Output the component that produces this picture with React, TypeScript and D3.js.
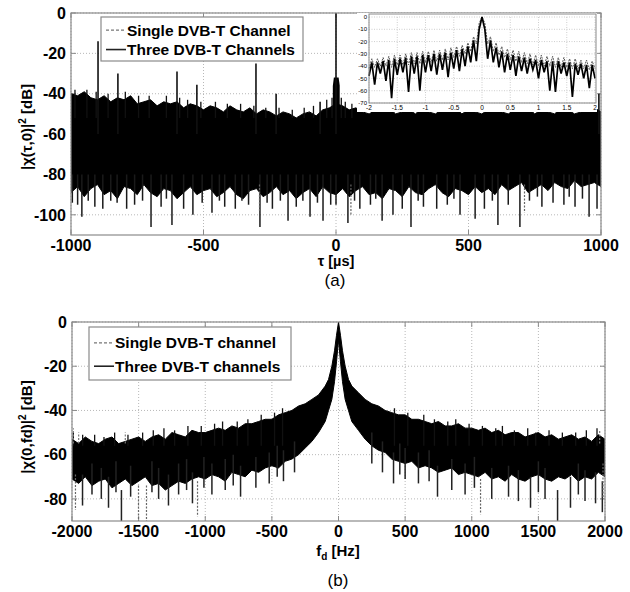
import React from 'react';
import * as d3 from 'd3';

// ---- panel (a): delay cut ----
const tauGridA = [
  -1000, -975, -950, -925, -900, -875, -850, -825, -800, -775, -750, -725, -700, -675, -650, -625, -600, -575, -550, -525, -500,
  -475, -450, -425, -400, -375, -350, -325, -300, -275, -250, -225, -200, -175, -150, -125, -100, -75, -50, -25, 0,
  25, 50, 75, 100, 125, 150, 175, 200, 225, 250, 275, 300, 325, 350, 375, 400, 425, 450, 475, 500,
  525, 550, 575, 600, 625, 650, 675, 700, 725, 750, 775, 800, 825, 850, 875, 900, 925, 950, 975, 1000,
];
const upperA = [
  -40, -41, -39, -42, -43, -41, -44, -42, -43, -41, -45, -44, -43, -46, -44, -45, -44, -47, -45, -46, -48,
  -46, -47, -49, -46, -48, -49, -47, -50, -48, -49, -51, -49, -50, -52, -50, -49, -51, -48, -47, -45,
  -46, -48, -47, -49, -50, -48, -49, -47, -50, -49, -48, -50, -47, -49, -50, -48, -49, -47, -50, -48,
  -49, -50, -48, -47, -49, -50, -48, -49, -47, -50, -48, -49, -50, -47, -48, -50, -49, -48, -47, -49,
];
const lowerA = [
  -89, -86, -91, -87, -85, -90, -88, -92, -86, -87, -90, -85, -89, -91, -87, -88, -92, -89, -86, -90, -88,
  -87, -91, -89, -86, -90, -92, -88, -87, -91, -89, -86, -90, -88, -92, -89, -87, -91, -86, -89, -90,
  -87, -91, -88, -86, -90, -89, -92, -87, -88, -91, -86, -89, -90, -87, -85, -89, -91, -87, -88, -90,
  -86, -89, -87, -90, -85, -88, -86, -84, -89, -87, -85, -88, -84, -86, -87, -83, -86, -85, -84, -86,
];
const centerBlockA = [[-12, -36], [-8, -32], [10, -32], [14, -36]];
const upSpikesA = [[-898, -14], [-823, -30], [-600, -29], [-525, -35.5], [-302, -25], [-226, -40], [-60, -44], [992, -40], [0, 0]];
const fringeUpA = [
  [-985, -38], [-940, -38], [-905, -39], [-860, -40], [-795, -39], [-745, -41], [-705, -41], [-640, -41], [-590, -42],
  [-560, -43], [-510, -44], [-455, -44], [-410, -45], [-360, -45], [-310, -46], [-265, -47], [-215, -47], [-165, -48],
  [-120, -47], [-85, -46], [-35, -43], [-15, -42], [20, -42], [35, -44], [60, -45],
];
const downSpikesA = [
  [-995, -94], [-975, -95], [-959, -101], [-935, -93], [-910, -96], [-880, -97], [-850, -93], [-826, -94], [-790, -97], [-760, -95],
  [-730, -93], [-698, -106], [-660, -96], [-640, -92], [-619, -105], [-575, -97], [-540, -100], [-505, -94], [-468, -99],
  [-440, -93], [-420, -96], [-380, -97], [-355, -93], [-330, -95], [-287, -106], [-260, -94], [-240, -97], [-210, -93],
  [-181, -103], [-150, -96], [-125, -93], [-98, -101], [-70, -94], [-49, -103], [-20, -95], [0, -95], [45, -104], [70, -93],
  [90, -97], [130, -95], [150, -92], [174, -103], [215, -100], [250, -97], [283, -106], [310, -93], [330, -96], [380, -97],
  [420, -95], [445, -92], [468, -100], [525, -102], [560, -97], [590, -93], [611, -105], [650, -95], [694, -106], [730, -93],
  [760, -91], [777, -96], [819, -94], [860, -95], [880, -91], [902, -96], [930, -92], [955, -101], [985, -97],
];
const dashedSpikesA = [[45, -100], [-300, -98], [700, -99]];
const xTicksA = [-1000, -500, 0, 500, 1000];
const yTicksA = [0, -20, -40, -60, -80, -100];

// ---- inset of (a): zoom around zero delay ----
const insetTau = [
  -2, -1.95, -1.9, -1.85, -1.8, -1.75, -1.7, -1.65, -1.6, -1.55, -1.5, -1.45, -1.4, -1.35, -1.3, -1.25, -1.2, -1.15, -1.1, -1.05,
  -1, -0.95, -0.9, -0.85, -0.8, -0.75, -0.7, -0.65, -0.6, -0.55, -0.5, -0.45, -0.4, -0.35, -0.3, -0.25, -0.2, -0.15, -0.1, -0.05,
  0, 0.05, 0.1, 0.15, 0.2, 0.25, 0.3, 0.35, 0.4, 0.45, 0.5, 0.55, 0.6, 0.65, 0.7, 0.75, 0.8, 0.85, 0.9, 0.95,
  1, 1.05, 1.1, 1.15, 1.2, 1.25, 1.3, 1.35, 1.4, 1.45, 1.5, 1.55, 1.6, 1.65, 1.7, 1.75, 1.8, 1.85, 1.9, 1.95, 2,
];
const insetThree = [
  -48, -37, -55, -37, -46, -36, -52, -35, -66, -34, -47, -34, -45, -33, -61, -32, -46, -32, -60, -31,
  -45, -31, -44, -30, -47, -30, -43, -29, -49, -29, -42, -27, -44, -26, -40, -24, -37, -19, -36, -10,
  0, -10, -34, -19, -37, -25, -41, -28, -45, -30, -43, -31, -48, -32, -44, -33, -46, -34, -43, -35,
  -50, -35, -45, -36, -60, -36, -61, -36, -46, -37, -48, -37, -65, -38, -47, -38, -50, -39, -58, -39, -50,
];
const insetSingle = [
  -42, -34, -41, -34, -40, -33, -40, -32, -41, -31, -39, -31, -39, -30, -39, -29, -38, -29, -38, -28,
  -37, -28, -37, -27, -36, -27, -35, -26, -35, -25, -33, -24, -32, -23, -30, -21, -28, -16, -22, -5,
  0, -5, -22, -16, -28, -21, -31, -24, -33, -26, -35, -27, -36, -28, -37, -29, -38, -30, -39, -31,
  -40, -31, -40, -32, -40, -32, -41, -33, -41, -33, -41, -34, -42, -34, -42, -35, -42, -35, -43, -36, -42,
];
const insetXTicks = [-2, -1.5, -1, -0.5, 0, 0.5, 1, 1.5, 2];
const insetYTicks = [0, -10, -20, -30, -40, -50, -60, -70];

// ---- panel (b): Doppler cut ----
const fdGridB = [
  -2000, -1950, -1900, -1850, -1800, -1750, -1700, -1650, -1600, -1550, -1500, -1450, -1400, -1350, -1300, -1250, -1200, -1150, -1100, -1050,
  -1000, -950, -900, -850, -800, -750, -700, -650, -600, -550, -500, -450, -400, -350, -300, -250, -200, -150, -100, -75, -50, -30, -15,
  0, 15, 30, 50, 75, 100, 150, 200, 250, 300, 350, 400, 450, 500, 550, 600, 650, 700, 750, 800, 850, 900, 950,
  1000, 1050, 1100, 1150, 1200, 1250, 1300, 1350, 1400, 1450, 1500, 1550, 1600, 1650, 1700, 1750, 1800, 1850, 1900, 1950, 2000,
];
const upperB = [
  -53, -55, -52, -54, -55, -53, -52, -55, -54, -53, -52, -54, -52, -51, -53, -50, -51, -52, -49, -50,
  -50, -49, -48, -49, -47, -48, -46, -46, -45, -44, -44, -42, -41, -40, -38, -37, -35, -33, -29, -26, -20, -13, -6,
  0, -6, -13, -20, -26, -29, -32, -35, -37, -38, -40, -41, -42, -42, -44, -44, -45, -46, -45, -47, -47, -46, -48,
  -48, -49, -48, -50, -49, -51, -50, -50, -52, -51, -50, -52, -51, -53, -52, -51, -53, -52, -54, -51, -53,
];
const lowerB = [
  -71, -73, -70, -74, -72, -71, -75, -73, -71, -74, -72, -70, -74, -73, -76, -74, -72, -73, -71, -70,
  -71, -69, -70, -72, -68, -69, -70, -67, -68, -66, -65, -66, -63, -62, -60, -57, -54, -50, -45, -40, -35, -27, -18,
  -8, -18, -27, -35, -40, -45, -49, -53, -56, -58, -59, -62, -63, -64, -63, -66, -65, -66, -68, -67, -66, -69, -68,
  -69, -70, -68, -71, -70, -72, -69, -71, -72, -70, -69, -71, -72, -70, -71, -69, -72, -70, -71, -68, -70,
];
const fringeUpB = [
  [-1990, -50], [-1920, -51], [-1830, -51], [-1760, -52], [-1680, -50], [-1580, -51], [-1470, -50], [-1390, -49], [-1310, -48],
  [-1230, -49], [-1130, -47], [-1030, -47], [-930, -46], [-870, -45], [-760, -45], [-680, -44], [-580, -42], [-480, -41],
  [-420, -39], [420, -39], [520, -41], [640, -42], [720, -44], [820, -45], [880, -44], [980, -46], [1080, -47], [1180, -48],
  [1230, -47], [1320, -49], [1420, -48], [1480, -50], [1580, -49], [1680, -50], [1780, -50], [1860, -49], [1940, -48],
];
const downSpikesB = [
  [-1921, -83], [-1850, -78], [-1780, -80], [-1726, -84], [-1670, -77], [-1629, -90], [-1560, -79], [-1400, -77], [-1350, -80],
  [-1276, -83], [-1200, -78], [-1140, -76], [-1096, -82], [-1010, -75], [-950, -78], [-850, -76], [-790, -74], [-735, -79],
  [-620, -75], [-520, -73], [-460, -70], [-413, -72], [-330, -68], [250, -64], [330, -68], [413, -73], [460, -69], [500, -71],
  [600, -73], [680, -72], [743, -79], [850, -76], [950, -78], [1020, -75], [1150, -80], [1276, -79], [1350, -81], [1441, -84],
  [1500, -77], [1550, -80], [1644, -90], [1741, -84], [1800, -78], [1850, -81], [1929, -82], [1980, -86],
];
const dashedSpikesB = [[-1974, -85], [-1501, -90], [-1441, -90], [-1058, -88], [1066, -87], [1985, -80]];
const dashedUpB = [[-1990, -48], [-1950, -50], [-1600, -50], [1960, -49]];
const xTicksB = [-2000, -1500, -1000, -500, 0, 500, 1000, 1500, 2000];
const yTicksB = [0, -20, -40, -60, -80];

const FONT = '"Liberation Sans", Arial, sans-serif';
const FRAME = '#8a8a8a';
const GRID = '#b8b8b8';

function Frame({ x, y, xTicks, yTicks, tick = 5, fs = 16 }: any) {
  const [x0, x1] = x.range();
  const [y0, y1] = y.range();
  return (
    <g>
      {xTicks.map((t: number) => (
        <g key={'x' + t}>
          <line x1={x(t)} x2={x(t)} y1={y1} y2={y0} stroke={GRID} strokeDasharray="1,2" />
          <line x1={x(t)} x2={x(t)} y1={y0} y2={y0 - tick} stroke={FRAME} />
          <line x1={x(t)} x2={x(t)} y1={y1} y2={y1 + tick} stroke={FRAME} />
          <text x={x(t)} y={y0 + fs} textAnchor="middle" fontSize={fs} fontWeight="bold" fontFamily={FONT}>{t}</text>
        </g>
      ))}
      {yTicks.map((t: number) => (
        <g key={'y' + t}>
          <line x1={x0} x2={x1} y1={y(t)} y2={y(t)} stroke={GRID} strokeDasharray="1,2" />
          <line x1={x0} x2={x0 + tick} y1={y(t)} y2={y(t)} stroke={FRAME} />
          <line x1={x1} x2={x1 - tick} y1={y(t)} y2={y(t)} stroke={FRAME} />
          <text x={x0 - 5} y={y(t)} dy="0.36em" textAnchor="end" fontSize={fs} fontWeight="bold" fontFamily={FONT}>{t}</text>
        </g>
      ))}
    </g>
  );
}

function Legend({ x, y, w, h, labels }: any) {
  const r1 = y + h * 0.3;
  const r2 = y + h * 0.74;
  return (
    <g>
      <rect x={x} y={y} width={w} height={h} fill="#fff" stroke={FRAME} strokeWidth={1.2} />
      <line x1={x + 5} x2={x + 25} y1={r1} y2={r1} stroke="#777" strokeWidth={1.3} strokeDasharray="3,2" />
      <line x1={x + 5} x2={x + 25} y1={r2} y2={r2} stroke="#222" strokeWidth={1.6} />
      <text x={x + 26} y={r1} dy="0.36em" fontSize={15.5} fontWeight="bold" fontFamily={FONT}>{labels[0]}</text>
      <text x={x + 26} y={r2} dy="0.36em" fontSize={15.5} fontWeight="bold" fontFamily={FONT}>{labels[1]}</text>
    </g>
  );
}

export default function App() {
  const xA = d3.scaleLinear().domain([-1000, 1000]).range([71, 601]);
  const yA = d3.scaleLinear().domain([-110, 0]).range([235, 13]);
  const xI = d3.scaleLinear().domain([-2, 2]).range([369, 595]);
  const yI = d3.scaleLinear().domain([-70, 0]).range([103, 17]);
  const xB = d3.scaleLinear().domain([-2000, 2000]).range([72, 605]);
  const yB = d3.scaleLinear().domain([-90, 0]).range([521, 322]);

  const bandA = d3.area<number>()
    .x((d, i) => xA(tauGridA[i]))
    .y0((d, i) => yA(lowerA[i]))
    .y1((d, i) => yA(upperA[i]))(tauGridA);
  const blockA = d3.area<number[]>()
    .x((d) => xA(d[0]))
    .y0(() => yA(-80))
    .y1((d) => yA(d[1]))(centerBlockA);
  const bandB = d3.area<number>()
    .x((d, i) => xB(fdGridB[i]))
    .y0((d, i) => yB(lowerB[i]))
    .y1((d, i) => yB(upperB[i]))(fdGridB);
  const lineI = (vals: number[]) =>
    d3.line<number>().x((d) => xI(d)).y((d, i) => yI(vals[i]))(insetTau);

  return (
    <svg width={630} height={592} style={{ position: 'absolute', left: 0, top: 0, background: '#fff' }}>
      <defs>
        <clipPath id="clipA"><rect x={71} y={13} width={530} height={222} /></clipPath>
        <clipPath id="clipB"><rect x={72} y={322} width={533} height={199} /></clipPath>
      </defs>

      {/* panel (a) */}
      <Frame x={xA} y={yA} xTicks={xTicksA} yTicks={yTicksA} />
      <g clipPath="url(#clipA)">
        <path d={bandA || ''} fill="#000" stroke="#000" strokeWidth={1} />
        <path d={blockA || ''} fill="#000" />
        {fringeUpA.map((s, i) => (
          <line key={i} x1={xA(s[0])} x2={xA(s[0])} y1={yA(-52)} y2={yA(s[1])} stroke="#111" strokeWidth={1.3} />
        ))}
        {upSpikesA.map((s, i) => (
          <line key={i} x1={xA(s[0])} x2={xA(s[0])} y1={yA(-60)} y2={yA(s[1])} stroke="#111" strokeWidth={1.6} />
        ))}
        {downSpikesA.map((s, i) => (
          <line key={i} x1={xA(s[0])} x2={xA(s[0])} y1={yA(-80)} y2={yA(s[1])} stroke="#1a1a1a" strokeWidth={1.5} />
        ))}
        {dashedSpikesA.map((s, i) => (
          <line key={i} x1={xA(s[0]) + 3} x2={xA(s[0]) + 3} y1={yA(-85)} y2={yA(s[1])} stroke="#666" strokeWidth={1.2} strokeDasharray="2,1.5" />
        ))}
      </g>
      <rect x={71} y={13} width={530} height={222} fill="none" stroke={FRAME} strokeWidth={1.2} />
      <Legend x={101} y={17} w={202} h={44} labels={['Single DVB-T Channel', 'Three DVB-T Channels']} />

      {/* inset */}
      <rect x={357} y={13} width={240} height={99} fill="#fff" />
      {insetXTicks.map((t) => (
        <g key={'ix' + t}>
          <line x1={xI(t)} x2={xI(t)} y1={17} y2={103} stroke={GRID} strokeDasharray="1,1.5" strokeWidth={0.7} />
          <text x={xI(t)} y={109.5} textAnchor="middle" fontSize={6.5} fontFamily={FONT}>{t}</text>
        </g>
      ))}
      {insetYTicks.map((t) => (
        <g key={'iy' + t}>
          <line x1={369} x2={595} y1={yI(t)} y2={yI(t)} stroke={GRID} strokeDasharray="1,1.5" strokeWidth={0.7} />
          <text x={367} y={yI(t)} dy="0.35em" textAnchor="end" fontSize={6} fontFamily={FONT}>{t}</text>
        </g>
      ))}
      <path d={lineI(insetSingle) || ''} fill="none" stroke="#555" strokeWidth={1} strokeDasharray="2,1" />
      <path d={lineI(insetThree) || ''} fill="none" stroke="#000" strokeWidth={1.7} />
      <rect x={369} y={14} width={227} height={89} fill="none" stroke={FRAME} strokeWidth={1} />

      <text x={27} y={127} transform="rotate(-90 27 127)" textAnchor="middle" dy="0.35em" fontSize={15} fontWeight="bold" fontFamily={FONT}>
        |χ(τ,0)|<tspan dy="-6" fontSize={10}>2</tspan><tspan dy="6"> [dB]</tspan>
      </text>
      <text x={336} y={266} textAnchor="middle" fontSize={14.5} fontWeight="bold" fontFamily={FONT}>τ [µs]</text>
      <text x={335} y={286} textAnchor="middle" fontSize={17} fontFamily={FONT}>(a)</text>

      {/* panel (b) */}
      <Frame x={xB} y={yB} xTicks={xTicksB} yTicks={yTicksB} />
      <g clipPath="url(#clipB)">
        <path d={bandB || ''} fill="#000" stroke="#000" strokeWidth={1} />
        {fringeUpB.map((s, i) => (
          <line key={i} x1={xB(s[0])} x2={xB(s[0])} y1={yB(-56)} y2={yB(s[1])} stroke="#111" strokeWidth={1.3} />
        ))}
        {downSpikesB.map((s, i) => (
          <line key={i} x1={xB(s[0])} x2={xB(s[0])} y1={yB(s[1] + 14)} y2={yB(s[1])} stroke="#222" strokeWidth={1.5} />
        ))}
        {dashedSpikesB.map((s, i) => (
          <line key={i} x1={xB(s[0])} x2={xB(s[0])} y1={yB(s[1] + 16)} y2={yB(s[1])} stroke="#666" strokeWidth={1.2} strokeDasharray="2,1.5" />
        ))}
        {dashedUpB.map((s, i) => (
          <line key={i} x1={xB(s[0])} x2={xB(s[0])} y1={yB(-55)} y2={yB(s[1])} stroke="#777" strokeWidth={1.2} strokeDasharray="2,1.5" />
        ))}
      </g>
      <rect x={72} y={322} width={533} height={199} fill="none" stroke={FRAME} strokeWidth={1.2} />
      <Legend x={89} y={327} w={202} h={53} labels={['Single DVB-T channel', 'Three DVB-T channels']} />

      <text x={27} y={427} transform="rotate(-90 27 427)" textAnchor="middle" dy="0.35em" fontSize={15} fontWeight="bold" fontFamily={FONT}>
        |χ(0,fd)|<tspan dy="-6" fontSize={10}>2</tspan><tspan dy="6"> [dB]</tspan>
      </text>
      <text x={338} y={556} textAnchor="middle" fontSize={15} fontWeight="bold" fontFamily={FONT}>
        f<tspan dy="4" fontSize={10}>d</tspan><tspan dy="-4"> [Hz]</tspan>
      </text>
      <text x={338} y={586} textAnchor="middle" fontSize={17} fontFamily={FONT}>(b)</text>
    </svg>
  );
}
